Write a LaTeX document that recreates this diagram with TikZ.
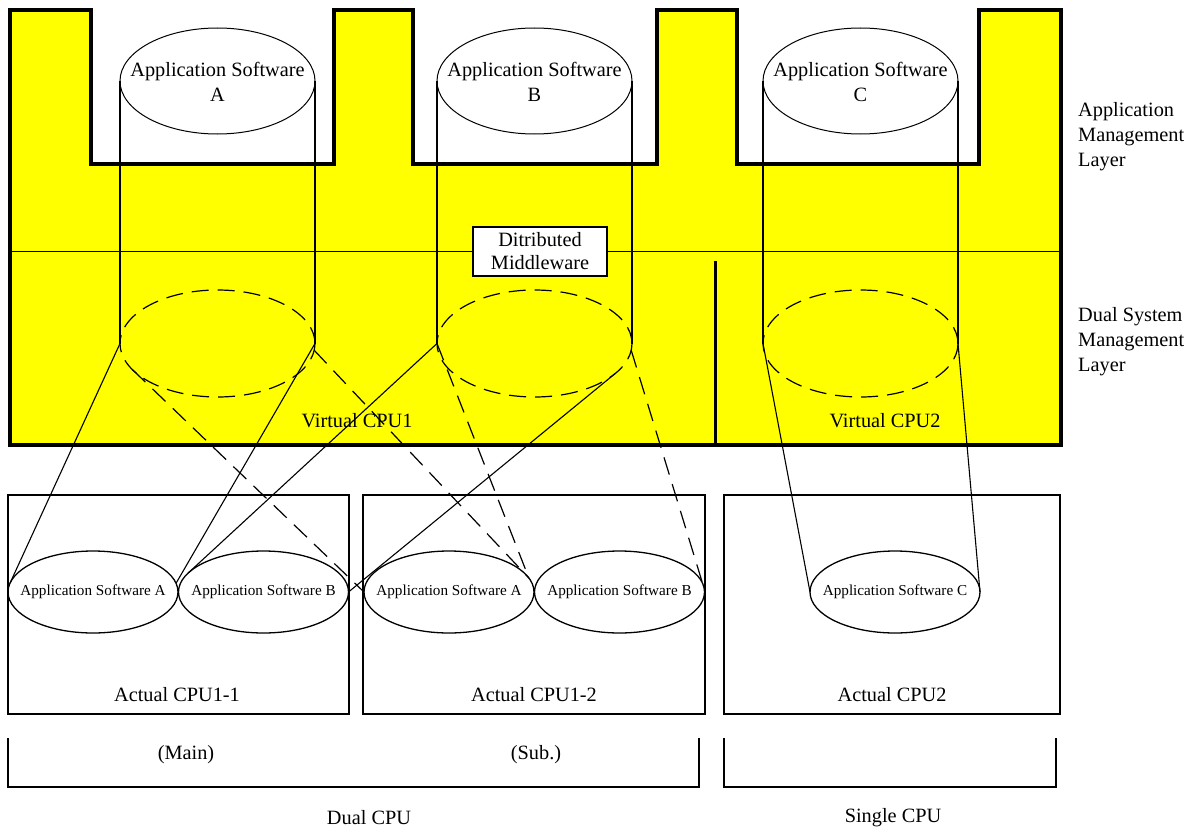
\documentclass[tikz,border=0pt]{standalone}
\usepackage{fontspec}
\setmainfont{Liberation Serif}
\usetikzlibrary{shapes.geometric}
\definecolor{layeryellow}{RGB}{255,255,0}
\begin{document}
\begin{tikzpicture}[x=1pt,y=-1pt,
  big/.style={font=\fontsize{20.3}{25}\selectfont, inner sep=0pt, align=center},
  small/.style={font=\fontsize{15.2}{18}\selectfont, inner sep=0pt},
  topell/.style={ellipse, draw, line width=1pt, fill=white, minimum width=195pt, minimum height=106pt, inner sep=0pt, outer sep=0pt},
  virtell/.style={ellipse, draw, line width=1.2pt, dash pattern=on 17pt off 9pt, minimum width=195pt, minimum height=107pt, inner sep=0pt, outer sep=0pt},
  cpuell/.style={ellipse, draw, line width=1.3pt, minimum width=170pt, minimum height=82pt, inner sep=0pt, outer sep=0pt},
  cpubox/.style={draw, line width=2pt, minimum height=219pt, inner sep=0pt, outer sep=0pt},
  conn/.style={line width=1.1pt},
  dline/.style={line width=1.2pt, dash pattern=on 18pt off 10pt},
  bracket/.style={line width=1.2pt},
]
\useasboundingbox[fill=white] (0,0) rectangle (1193,832);

% yellow layer shape
\path[fill=layeryellow, draw=black, line width=3.5pt, line join=miter]
  (10,10) -- (91,10) -- (91,164) -- (334,164) -- (334,10) -- (413,10) -- (413,164)
  -- (657,164) -- (657,10) -- (737,10) -- (737,164) -- (979,164) -- (979,10)
  -- (1061,10) -- (1061,445) -- (10,445) -- cycle;
\draw[line width=1pt] (10,251) -- (1061,251);
\draw[line width=3pt] (715,261) -- (715,445);

% top ellipses
\node[topell] (tA) at (217.5,81) {};
\node[topell] (tB) at (534.5,81) {};
\node[topell] (tC) at (860.5,81) {};
\node[big] (ltA) at (217.5,81.5) {Application Software\\A};
\node[big] (ltB) at (534.5,81.5) {Application Software\\B};
\node[big] (ltC) at (860.5,81.5) {Application Software\\C};

% virtual ellipses
\node[virtell] (vA) at (217.5,343.5) {};
\node[virtell] (vB) at (534.5,343.5) {};
\node[virtell] (vC) at (860.5,343.5) {};

% cylinder lines
\draw[conn] (tA.west) -- (vA.west);
\draw[conn] (tA.east) -- (vA.east);
\draw[conn] (tB.west) -- (vB.west);
\draw[conn] (tB.east) -- (vB.east);
\draw[conn] (tC.west) -- (vC.west);
\draw[conn] (tC.east) -- (vC.east);

% middleware
\node[draw, fill=white, line width=1.2pt, minimum width=134pt, minimum height=49pt, inner sep=0pt,
  font=\fontsize{20.3}{23}\selectfont, align=center] (mw) at (540,251.5) {Ditributed\\Middleware};

\node[big] (vcpu1) at (357,421) {Virtual CPU1};
\node[big] (vcpu2) at (885,421) {Virtual CPU2};

% right labels
\node[big, align=left, anchor=west] (aml) at (1078,137) {Application\\Management\\Layer};
\node[big, align=left, anchor=west] (dsl) at (1078,342) {Dual System\\Management\\Layer};

% actual CPU boxes
\node[cpubox, minimum width=341pt] (cpu11) at (178.5,604.5) {};
\node[cpubox, minimum width=342pt] (cpu12) at (534,604.5) {};
\node[cpubox, minimum width=336pt] (cpu2) at (892,604.5) {};
\node[big] (lcpu11) at (177,695) {Actual CPU1-1};
\node[big] (lcpu12) at (534,695) {Actual CPU1-2};
\node[big] (lcpu2) at (892,695) {Actual CPU2};

% actual ellipses
\node[cpuell] (a1) at (93,592) {};
\node[cpuell] (b1) at (263.5,592) {};
\node[cpuell] (a2) at (449,592) {};
\node[cpuell] (b2) at (619.5,592) {};
\node[cpuell] (c) at (895,592) {};
\node[small] (la1) at (93,592) {Application Software A};
\node[small] (lb1) at (263.5,592) {Application Software B};
\node[small] (la2) at (449,592) {Application Software A};
\node[small] (lb2) at (619.5,592) {Application Software B};
\node[small] (lc) at (895,592) {Application Software C};

% mapping lines
\draw[conn] (vA.west) -- (a1.174);
\draw[conn] (vA.east) -- (a1.6);
\draw[conn] (vB.west) -- (b1.166);
\draw[conn] (vB.-20) -- (b1.east);
\draw[dline] (vA.197) -- (a2.west);
\draw[dline] (vA.-4) -- (a2.10);
\draw[dline] (vB.west) -- (a2.10);
\draw[dline] (vB.-4) -- (b2.6);
\draw[conn] (vC.west) -- (c.west);
\draw[conn] (vC.east) -- (c.east);

% brackets
\draw[bracket] (8,738) -- (8,787) -- (699,787) -- (699,738);
\draw[bracket] (724,738) -- (724,787) -- (1056,787) -- (1056,738);
\node[big] (lmain) at (186,755) {(Main)};
\node[big] (lsub) at (536,755) {(Sub.)};
\node[big] (ldual) at (369,818) {Dual CPU};
\node[big] (lsingle) at (893,818) {Single CPU};
\end{tikzpicture}
\end{document}
